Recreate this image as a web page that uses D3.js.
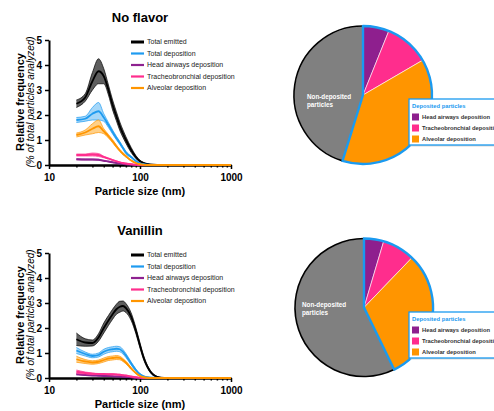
<!DOCTYPE html>
<html>
<head>
<meta charset="utf-8">
<script src="https://cdn.jsdelivr.net/npm/d3@7"></script>
<style>
  body { margin: 0; background: #fff; }
  svg { display: block; font-family: "Liberation Sans", Arial, sans-serif; }
</style>
</head>
<body>
<div id="viz"></div>
<script>
// particle sizes (nm) where the curves were read
const sizes = [20, 25, 30, 35, 40, 45, 50, 55, 60, 65, 70, 80, 90, 100, 110, 120, 140, 170, 200, 300, 500, 1000];

// No flavor: mean and sd (% of total particles analyzed)
const nfEmitted     = [2.45, 2.7, 3.35, 3.75, 3.55, 3.0, 2.4, 1.95, 1.55, 1.25, 1.0, 0.6, 0.32, 0.15, 0.08, 0.04, 0.01, 0, 0, 0, 0, 0];
const nfEmittedSd   = [0.15, 0.15, 0.35, 0.5, 0.3, 0.2, 0.2, 0.18, 0.17, 0.15, 0.13, 0.1, 0.06, 0.04, 0.02, 0.01, 0, 0, 0, 0, 0, 0];
const nfDeposited   = [1.8, 1.85, 2.05, 2.15, 1.9, 1.6, 1.32, 1.08, 0.88, 0.68, 0.5, 0.32, 0.16, 0.07, 0.03, 0.015, 0, 0, 0, 0, 0, 0];
const nfDepositedSd = [0.1, 0.1, 0.25, 0.35, 0.15, 0.1, 0.08, 0.07, 0.06, 0.05, 0.05, 0.03, 0.02, 0.01, 0, 0, 0, 0, 0, 0, 0, 0];
const nfHead        = [0.23, 0.22, 0.22, 0.21, 0.17, 0.14, 0.11, 0.08, 0.06, 0.045, 0.03, 0.015, 0.005, 0, 0, 0, 0, 0, 0, 0, 0, 0];
const nfHeadSd      = [0.02, 0.02, 0.02, 0.02, 0.015, 0.01, 0.01, 0.01, 0.01, 0.005, 0.005, 0, 0, 0, 0, 0, 0, 0, 0, 0, 0, 0];
const nfTracheo     = [0.4, 0.4, 0.42, 0.4, 0.32, 0.26, 0.2, 0.15, 0.11, 0.08, 0.06, 0.03, 0.01, 0, 0, 0, 0, 0, 0, 0, 0, 0];
const nfTracheoSd   = [0.04, 0.04, 0.06, 0.06, 0.03, 0.02, 0.02, 0.02, 0.01, 0.01, 0.01, 0, 0, 0, 0, 0, 0, 0, 0, 0, 0, 0];
const nfAlveolar    = [1.2, 1.3, 1.45, 1.55, 1.35, 1.15, 0.95, 0.75, 0.58, 0.45, 0.35, 0.18, 0.08, 0.03, 0.01, 0, 0, 0, 0, 0, 0, 0];
const nfAlveolarSd  = [0.08, 0.1, 0.2, 0.25, 0.1, 0.07, 0.06, 0.05, 0.04, 0.04, 0.03, 0.02, 0.01, 0, 0, 0, 0, 0, 0, 0, 0, 0];

// Vanillin: mean and sd
const vaEmitted     = [1.55, 1.42, 1.4, 1.62, 2.0, 2.3, 2.55, 2.75, 2.85, 2.88, 2.8, 2.45, 1.9, 1.3, 0.8, 0.47, 0.13, 0.01, 0, 0, 0, 0];
const vaEmittedSd   = [0.25, 0.15, 0.12, 0.15, 0.2, 0.2, 0.2, 0.2, 0.22, 0.2, 0.18, 0.15, 0.12, 0.1, 0.08, 0.05, 0.03, 0.01, 0, 0, 0, 0];
const vaDeposited   = [1.1, 0.96, 0.88, 0.92, 1.05, 1.12, 1.15, 1.17, 1.15, 1.05, 0.9, 0.58, 0.32, 0.15, 0.07, 0.03, 0.01, 0, 0, 0, 0, 0];
const vaDepositedSd = [0.12, 0.08, 0.07, 0.08, 0.1, 0.1, 0.1, 0.1, 0.1, 0.09, 0.08, 0.06, 0.04, 0.02, 0.01, 0, 0, 0, 0, 0, 0, 0];
const vaHead        = [0.15, 0.12, 0.1, 0.09, 0.08, 0.08, 0.07, 0.06, 0.06, 0.05, 0.04, 0.025, 0.01, 0.005, 0, 0, 0, 0, 0, 0, 0, 0];
const vaHeadSd      = [0.02, 0.02, 0.01, 0.01, 0.01, 0.01, 0.01, 0.01, 0.01, 0.01, 0.005, 0, 0, 0, 0, 0, 0, 0, 0, 0, 0, 0];
const vaTracheo     = [0.25, 0.2, 0.17, 0.16, 0.16, 0.15, 0.15, 0.14, 0.13, 0.11, 0.1, 0.06, 0.03, 0.01, 0, 0, 0, 0, 0, 0, 0, 0];
const vaTracheoSd   = [0.07, 0.04, 0.03, 0.02, 0.02, 0.02, 0.02, 0.02, 0.02, 0.015, 0.01, 0.01, 0, 0, 0, 0, 0, 0, 0, 0, 0, 0];
const vaAlveolar    = [0.75, 0.66, 0.62, 0.65, 0.72, 0.78, 0.8, 0.82, 0.8, 0.72, 0.62, 0.38, 0.2, 0.08, 0.03, 0.01, 0, 0, 0, 0, 0, 0];
const vaAlveolarSd  = [0.12, 0.08, 0.07, 0.07, 0.08, 0.08, 0.08, 0.08, 0.07, 0.06, 0.05, 0.04, 0.02, 0.01, 0, 0, 0, 0, 0, 0, 0, 0];

const seriesNames = ["Total emitted", "Total deposition", "Head airways deposition", "Tracheobronchial deposition", "Alveolar deposition"];
const yTicks = [0, 1, 2, 3, 4, 5];
const xTicks = [10, 100, 1000];

// pie shares (%)
const pieLabels = ["Head airways deposition", "Tracheobronchial deposition", "Alveolar deposition", "Non-deposited particles"];
const nfPie = [6.1, 10.5, 38.2, 45.2];
const vaPie = [4.6, 7.6, 30.6, 57.2];

const lineColors = ["#000000", "#1e9bf0", "#8e2290", "#ff2d8d", "#ff9500"];
const bandColors = ["#555555", "#8fcdf7", "#b57ab6", "#ff8fbf", "#ffc46a"];
const pieColors = ["#8e1f8e", "#ff2d8d", "#ff9500", "#808080"];
const blue = "#1a9af0";

const svg = d3.select("#viz").append("svg")
    .attr("width", 494)
    .attr("height", 411);

function drawLines(top, title, means, sds) {
    const x = d3.scaleLog().domain([10, 1000]).range([49, 231]);
    const y = d3.scaleLinear().domain([0, 5]).range([top + 125, top]);
    const g = svg.append("g");

    // title
    g.append("text")
        .attr("x", 140).attr("y", top - 18)
        .attr("text-anchor", "middle")
        .attr("font-size", 13).attr("font-weight", "bold")
        .text(title);

    // y axis titles
    const cy = top + 62;
    g.append("text")
        .attr("transform", `translate(24,${cy}) rotate(-90)`)
        .attr("text-anchor", "middle")
        .attr("font-size", 11).attr("font-weight", "bold")
        .text("Relative frequency");
    g.append("text")
        .attr("transform", `translate(34,${cy}) rotate(-90)`)
        .attr("text-anchor", "middle")
        .attr("font-size", 10).attr("font-style", "italic")
        .text("(% of total particles analyzed)");

    // axes
    const yAxis = g.append("g")
        .attr("transform", "translate(49,0)")
        .call(d3.axisLeft(y).tickValues(yTicks).tickFormat(d3.format("d")).tickSize(4).tickSizeOuter(0));
    const minor = [20, 30, 40, 50, 60, 70, 80, 90, 200, 300, 400, 500, 600, 700, 800, 900];
    const xAxisMinor = g.append("g")
        .attr("transform", `translate(0,${top + 125})`)
        .call(d3.axisBottom(x).tickValues(minor).tickFormat("").tickSize(2.5).tickSizeOuter(0));
    const xAxis = g.append("g")
        .attr("transform", `translate(0,${top + 125})`)
        .call(d3.axisBottom(x).tickValues(xTicks).tickFormat(d3.format("d")).tickSize(4).tickSizeOuter(0));
    [yAxis, xAxis, xAxisMinor].forEach(a => {
        a.select(".domain").attr("stroke-width", 2).attr("stroke", "#000");
        a.selectAll(".tick line").attr("stroke-width", 1.5).attr("stroke", "#000");
        a.selectAll("text").attr("font-size", 10).attr("font-weight", "bold")
            .attr("font-family", "Liberation Sans, Arial, sans-serif").attr("fill", "#000");
    });
    xAxis.selectAll("text").attr("dy", "0.9em");

    g.append("text")
        .attr("x", 140).attr("y", top + 155)
        .attr("text-anchor", "middle")
        .attr("font-size", 11).attr("font-weight", "bold")
        .text("Particle size (nm)");

    // bands and mean lines
    const area = d3.area()
        .x((d, i) => x(sizes[i]))
        .y0(d => y(Math.max(0, d[0] - d[1])))
        .y1(d => y(d[0] + d[1]))
        .curve(d3.curveMonotoneX);
    const edge = k => d3.line()
        .x((d, i) => x(sizes[i]))
        .y(d => y(Math.max(0, d[0] + k * d[1])))
        .curve(d3.curveMonotoneX);

    means.forEach((m, s) => {
        const pts = m.map((v, i) => [v, sds[s][i]]);
        g.append("path").datum(pts)
            .attr("d", area)
            .attr("fill", bandColors[s])
            .attr("fill-opacity", s === 0 ? 0.95 : 0.8);
        [-1, 1].forEach(k => {
            g.append("path").datum(pts)
                .attr("d", edge(k))
                .attr("fill", "none")
                .attr("stroke", lineColors[s])
                .attr("stroke-width", 0.7);
        });
        g.append("path").datum(pts)
            .attr("d", edge(0))
            .attr("fill", "none")
            .attr("stroke", lineColors[s])
            .attr("stroke-width", 1.8);
    });

    // legend
    const leg = g.append("g").attr("transform", `translate(131,${top + 2})`);
    seriesNames.forEach((name, s) => {
        const ly = s * 11.5;
        leg.append("line")
            .attr("x1", 0).attr("x2", 13).attr("y1", ly).attr("y2", ly)
            .attr("stroke", lineColors[s]).attr("stroke-width", s === 0 ? 3 : 2.2);
        leg.append("text")
            .attr("x", 16).attr("y", ly).attr("dy", "0.35em")
            .attr("font-size", 7).attr("fill", "#222")
            .text(name);
    });
}

function drawPie(cx, cy, r, values, legY, labelX, labelY) {
    const g = svg.append("g").attr("transform", `translate(${cx},${cy})`);
    const arcs = d3.pie().sort(null).value(d => d)(values);
    const arc = d3.arc().innerRadius(0).outerRadius(r);

    g.selectAll("path.slice")
        .data(arcs)
        .enter()
        .append("path")
        .attr("class", "slice")
        .attr("d", arc)
        .attr("fill", (d, i) => pieColors[i])
        .attr("stroke", "#fff")
        .attr("stroke-width", 0.6);

    // black rim on non-deposited, blue outline around deposited wedge
    const nd = arcs[3];
    g.append("path")
        .attr("d", d3.arc().innerRadius(r).outerRadius(r)({ startAngle: nd.startAngle, endAngle: nd.endAngle }))
        .attr("fill", "none").attr("stroke", "#000").attr("stroke-width", 1.6);
    g.append("path")
        .attr("d", arc({ startAngle: 0, endAngle: arcs[2].endAngle }))
        .attr("fill", "none").attr("stroke", blue).attr("stroke-width", 2.4)
        .attr("stroke-linejoin", "round");

    // slice label
    g.append("text")
        .attr("x", labelX - cx).attr("y", labelY - cy)
        .attr("font-size", 6.3).attr("font-weight", "bold").attr("fill", "#fff")
        .selectAll("tspan")
        .data(["Non-deposited", "particles"])
        .enter()
        .append("tspan")
        .attr("x", labelX - cx)
        .attr("dy", (d, i) => i === 0 ? 0 : 7.5)
        .text(d => d);

    // legend box
    const lg = svg.append("g").attr("transform", `translate(409,${legY})`);
    lg.append("rect")
        .attr("x", 1.5).attr("y", 1.5).attr("width", 120).attr("height", 46)
        .attr("fill", "#d8d8d8");
    lg.append("rect")
        .attr("x", 0).attr("y", 0).attr("width", 120).attr("height", 46)
        .attr("fill", "#fff").attr("stroke", blue).attr("stroke-width", 1.3);
    lg.append("text")
        .attr("x", 3).attr("y", 8.5)
        .attr("font-size", 5.8).attr("font-weight", "bold").attr("fill", blue)
        .text("Deposited particles");
    pieLabels.slice(0, 3).forEach((name, i) => {
        const ry = 18 + i * 11;
        lg.append("rect")
            .attr("x", 3).attr("y", ry - 3.5).attr("width", 7).attr("height", 7)
            .attr("fill", pieColors[i]);
        lg.append("text")
            .attr("x", 13).attr("y", ry).attr("dy", "0.35em")
            .attr("font-size", 5.8).attr("font-weight", "bold").attr("fill", "#333")
            .text(name);
    });
}

drawLines(40, "No flavor",
    [nfEmitted, nfDeposited, nfHead, nfTracheo, nfAlveolar],
    [nfEmittedSd, nfDepositedSd, nfHeadSd, nfTracheoSd, nfAlveolarSd]);
drawLines(253, "Vanillin",
    [vaEmitted, vaDeposited, vaHead, vaTracheo, vaAlveolar],
    [vaEmittedSd, vaDepositedSd, vaHeadSd, vaTracheoSd, vaAlveolarSd]);

drawPie(363, 95, 69, nfPie, 99, 307, 99);
drawPie(364, 307.5, 69, vaPie, 312, 302, 307);
</script>
</body>
</html>
